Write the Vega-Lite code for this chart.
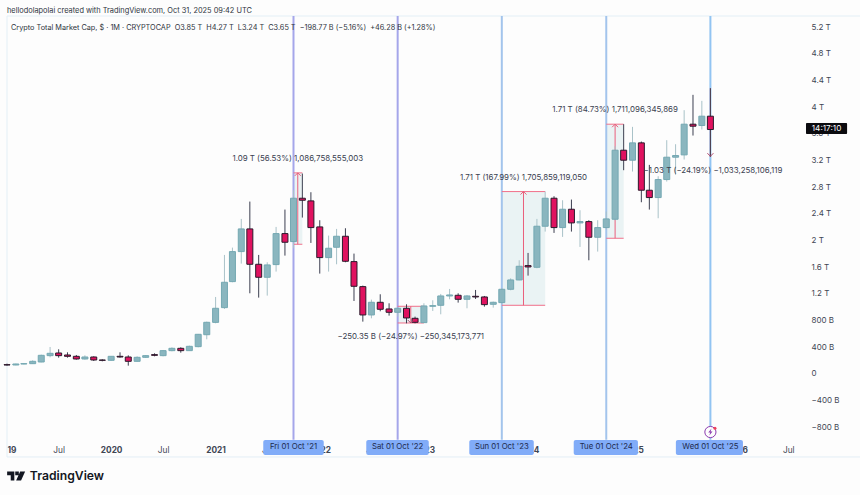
{
  "$schema": "https://vega.github.io/schema/vega-lite/v6.json",
  "width": 799,
  "height": 424,
  "padding": {"left": 7, "top": 16, "right": 54, "bottom": 55},
  "autosize": "none",
  "background": "#fdfdfd",
  "config": {"font": "Inter", "view": {"stroke": null}},
  "datasets": {
    "candles": [
      {"date": "2019-01-01T00:00:00", "open": 0.125, "high": 0.14, "low": 0.11, "close": 0.12},
      {"date": "2019-02-01T00:00:00", "open": 0.12, "high": 0.14, "low": 0.115, "close": 0.135},
      {"date": "2019-03-01T00:00:00", "open": 0.135, "high": 0.145, "low": 0.13, "close": 0.14},
      {"date": "2019-04-01T00:00:00", "open": 0.14, "high": 0.19, "low": 0.135, "close": 0.175},
      {"date": "2019-05-01T00:00:00", "open": 0.165, "high": 0.275, "low": 0.16, "close": 0.265},
      {"date": "2019-06-01T00:00:00", "open": 0.26, "high": 0.39, "low": 0.235, "close": 0.295},
      {"date": "2019-07-01T00:00:00", "open": 0.3, "high": 0.355, "low": 0.23, "close": 0.26},
      {"date": "2019-08-01T00:00:00", "open": 0.27, "high": 0.31, "low": 0.23, "close": 0.25},
      {"date": "2019-09-01T00:00:00", "open": 0.25, "high": 0.27, "low": 0.2, "close": 0.21},
      {"date": "2019-10-01T00:00:00", "open": 0.21, "high": 0.265, "low": 0.2, "close": 0.24},
      {"date": "2019-11-01T00:00:00", "open": 0.24, "high": 0.25, "low": 0.18, "close": 0.195},
      {"date": "2019-12-01T00:00:00", "open": 0.195, "high": 0.205, "low": 0.175, "close": 0.19},
      {"date": "2020-01-01T00:00:00", "open": 0.19, "high": 0.255, "low": 0.185, "close": 0.25},
      {"date": "2020-02-01T00:00:00", "open": 0.25, "high": 0.31, "low": 0.23, "close": 0.24},
      {"date": "2020-03-01T00:00:00", "open": 0.24, "high": 0.265, "low": 0.11, "close": 0.175},
      {"date": "2020-04-01T00:00:00", "open": 0.175, "high": 0.25, "low": 0.17, "close": 0.235},
      {"date": "2020-05-01T00:00:00", "open": 0.235, "high": 0.27, "low": 0.225, "close": 0.26},
      {"date": "2020-06-01T00:00:00", "open": 0.275, "high": 0.295, "low": 0.25, "close": 0.265},
      {"date": "2020-07-01T00:00:00", "open": 0.26, "high": 0.345, "low": 0.25, "close": 0.335},
      {"date": "2020-08-01T00:00:00", "open": 0.335, "high": 0.385, "low": 0.325, "close": 0.37},
      {"date": "2020-09-01T00:00:00", "open": 0.37, "high": 0.385, "low": 0.305, "close": 0.335},
      {"date": "2020-10-01T00:00:00", "open": 0.335, "high": 0.41, "low": 0.33, "close": 0.4},
      {"date": "2020-11-01T00:00:00", "open": 0.395, "high": 0.585, "low": 0.385, "close": 0.58},
      {"date": "2020-12-01T00:00:00", "open": 0.574, "high": 0.77, "low": 0.505, "close": 0.76},
      {"date": "2021-01-01T00:00:00", "open": 0.759, "high": 1.14, "low": 0.745, "close": 0.97},
      {"date": "2021-02-01T00:00:00", "open": 0.98, "high": 1.77, "low": 0.96, "close": 1.36},
      {"date": "2021-03-01T00:00:00", "open": 1.37, "high": 1.88, "low": 1.36, "close": 1.82},
      {"date": "2021-04-01T00:00:00", "open": 1.82, "high": 2.31, "low": 1.64, "close": 2.16},
      {"date": "2021-05-01T00:00:00", "open": 2.16, "high": 2.57, "low": 1.195, "close": 1.63},
      {"date": "2021-06-01T00:00:00", "open": 1.63, "high": 1.77, "low": 1.13, "close": 1.435},
      {"date": "2021-07-01T00:00:00", "open": 1.435, "high": 1.66, "low": 1.16, "close": 1.62},
      {"date": "2021-08-01T00:00:00", "open": 1.625, "high": 2.19, "low": 1.52, "close": 2.09},
      {"date": "2021-09-01T00:00:00", "open": 2.09, "high": 2.45, "low": 1.76, "close": 1.96},
      {"date": "2021-10-01T00:00:00", "open": 1.97, "high": 2.74, "low": 1.87, "close": 2.62},
      {"date": "2021-11-01T00:00:00", "open": 2.62, "high": 2.99, "low": 2.33, "close": 2.59},
      {"date": "2021-12-01T00:00:00", "open": 2.58, "high": 2.71, "low": 1.95, "close": 2.18},
      {"date": "2022-01-01T00:00:00", "open": 2.19, "high": 2.29, "low": 1.49, "close": 1.73},
      {"date": "2022-02-01T00:00:00", "open": 1.73, "high": 2.06, "low": 1.52, "close": 1.87},
      {"date": "2022-03-01T00:00:00", "open": 1.885, "high": 2.16, "low": 1.63, "close": 2.05},
      {"date": "2022-04-01T00:00:00", "open": 2.05, "high": 2.17, "low": 1.66, "close": 1.675},
      {"date": "2022-05-01T00:00:00", "open": 1.67, "high": 1.79, "low": 1.08, "close": 1.3},
      {"date": "2022-06-01T00:00:00", "open": 1.295, "high": 1.31, "low": 0.77, "close": 0.87},
      {"date": "2022-07-01T00:00:00", "open": 0.87, "high": 1.1, "low": 0.82, "close": 1.06},
      {"date": "2022-08-01T00:00:00", "open": 1.06, "high": 1.18, "low": 0.925, "close": 0.955},
      {"date": "2022-09-01T00:00:00", "open": 0.96, "high": 1.045, "low": 0.86, "close": 0.91},
      {"date": "2022-10-01T00:00:00", "open": 0.91, "high": 0.98, "low": 0.845, "close": 0.97},
      {"date": "2022-11-01T00:00:00", "open": 0.97, "high": 1.03, "low": 0.745, "close": 0.825},
      {"date": "2022-12-01T00:00:00", "open": 0.82, "high": 0.845, "low": 0.745, "close": 0.76},
      {"date": "2023-01-01T00:00:00", "open": 0.755, "high": 1.045, "low": 0.75, "close": 1.005},
      {"date": "2023-02-01T00:00:00", "open": 1.0, "high": 1.09, "low": 0.93, "close": 1.01},
      {"date": "2023-03-01T00:00:00", "open": 1.015, "high": 1.185, "low": 0.88, "close": 1.155},
      {"date": "2023-04-01T00:00:00", "open": 1.155, "high": 1.26, "low": 1.105, "close": 1.17},
      {"date": "2023-05-01T00:00:00", "open": 1.165, "high": 1.195, "low": 1.055, "close": 1.105},
      {"date": "2023-06-01T00:00:00", "open": 1.105, "high": 1.17, "low": 0.97, "close": 1.155},
      {"date": "2023-07-01T00:00:00", "open": 1.15, "high": 1.245, "low": 1.11, "close": 1.14},
      {"date": "2023-08-01T00:00:00", "open": 1.14, "high": 1.155, "low": 0.995, "close": 1.025},
      {"date": "2023-09-01T00:00:00", "open": 1.03, "high": 1.07, "low": 0.98, "close": 1.06},
      {"date": "2023-10-01T00:00:00", "open": 1.055, "high": 1.27, "low": 1.04, "close": 1.255},
      {"date": "2023-11-01T00:00:00", "open": 1.255, "high": 1.42, "low": 1.24, "close": 1.395},
      {"date": "2023-12-01T00:00:00", "open": 1.395, "high": 1.69, "low": 1.39, "close": 1.6},
      {"date": "2024-01-01T00:00:00", "open": 1.61, "high": 1.8, "low": 1.46, "close": 1.59},
      {"date": "2024-02-01T00:00:00", "open": 1.585, "high": 2.31, "low": 1.57, "close": 2.2},
      {"date": "2024-03-01T00:00:00", "open": 2.2, "high": 2.72, "low": 2.12, "close": 2.62},
      {"date": "2024-04-01T00:00:00", "open": 2.62, "high": 2.65, "low": 2.1, "close": 2.18},
      {"date": "2024-05-01T00:00:00", "open": 2.18, "high": 2.59, "low": 2.04, "close": 2.455},
      {"date": "2024-06-01T00:00:00", "open": 2.455, "high": 2.6, "low": 2.12, "close": 2.25},
      {"date": "2024-07-01T00:00:00", "open": 2.25, "high": 2.44, "low": 1.89, "close": 2.27},
      {"date": "2024-08-01T00:00:00", "open": 2.27, "high": 2.29, "low": 1.69, "close": 2.035},
      {"date": "2024-09-01T00:00:00", "open": 2.035, "high": 2.29, "low": 1.82, "close": 2.18},
      {"date": "2024-10-01T00:00:00", "open": 2.18, "high": 2.42, "low": 2.15, "close": 2.31},
      {"date": "2024-11-01T00:00:00", "open": 2.305, "high": 3.4, "low": 2.29, "close": 3.34},
      {"date": "2024-12-01T00:00:00", "open": 3.34, "high": 3.73, "low": 3.04, "close": 3.19},
      {"date": "2025-01-01T00:00:00", "open": 3.19, "high": 3.69, "low": 3.02, "close": 3.45},
      {"date": "2025-02-01T00:00:00", "open": 3.45, "high": 3.47, "low": 2.56, "close": 2.74},
      {"date": "2025-03-01T00:00:00", "open": 2.74, "high": 3.12, "low": 2.45, "close": 2.63},
      {"date": "2025-04-01T00:00:00", "open": 2.63, "high": 2.95, "low": 2.32, "close": 2.9},
      {"date": "2025-05-01T00:00:00", "open": 2.9, "high": 3.49, "low": 2.87, "close": 3.235},
      {"date": "2025-06-01T00:00:00", "open": 3.235, "high": 3.43, "low": 2.97, "close": 3.26},
      {"date": "2025-07-01T00:00:00", "open": 3.27, "high": 3.94, "low": 3.2, "close": 3.73},
      {"date": "2025-08-01T00:00:00", "open": 3.73, "high": 4.17, "low": 3.56, "close": 3.7},
      {"date": "2025-09-01T00:00:00", "open": 3.71, "high": 4.08, "low": 3.65, "close": 3.85},
      {"date": "2025-10-01T00:00:00", "open": 3.85, "high": 4.27, "low": 3.24, "close": 3.65}
    ],
    "cycles": [
      {"date": "2021-10-01T00:00:00", "label": "Fri 01 Oct '21", "from": "2021-06-17T00:00:00", "to": "2022-01-15T00:00:00", "top": 5.352, "bottom": -1.0},
      {"date": "2022-10-01T00:00:00", "label": "Sat 01 Oct '22", "from": "2022-06-13T00:00:00", "to": "2023-01-18T00:00:00", "top": 5.352, "bottom": -1.0},
      {"date": "2023-10-01T00:00:00", "label": "Sun 01 Oct '23", "from": "2023-06-09T00:00:00", "to": "2024-01-21T00:00:00", "top": 5.352, "bottom": -1.0},
      {"date": "2024-10-01T00:00:00", "label": "Tue 01 Oct '24", "from": "2024-06-09T00:00:00", "to": "2025-01-20T00:00:00", "top": 5.352, "bottom": -1.0},
      {"date": "2025-10-01T00:00:00", "label": "Wed 01 Oct '25", "from": "2025-06-02T00:00:00", "to": "2026-01-23T00:00:00", "top": 5.352, "bottom": -1.0}
    ],
    "ranges": [
      {"start": "2021-10-01T00:00:00", "end": "2021-11-01T00:00:00", "mid": "2021-10-16T00:00:00", "textX": "2021-10-16T00:00:00", "low": 1.93, "high": 3.0, "tip": 3.0, "text": "1.09 T (56.53%) 1,086,758,555,003", "textY": 3.21},
      {"start": "2022-10-01T00:00:00", "end": "2023-01-01T00:00:00", "mid": "2022-11-16T00:00:00", "textX": "2022-11-16T00:00:00", "low": 0.75, "high": 1.0, "tip": 0.75, "text": "−250.35 B (−24.97%) −250,345,173,771", "textY": 0.54},
      {"start": "2023-10-01T00:00:00", "end": "2024-03-01T00:00:00", "mid": "2023-12-16T00:00:00", "textX": "2023-12-16T00:00:00", "low": 1.015, "high": 2.72, "tip": 2.72, "text": "1.71 T (167.99%) 1,705,859,119,050", "textY": 2.92},
      {"start": "2024-10-01T00:00:00", "end": "2024-12-01T00:00:00", "mid": "2024-11-01T00:00:00", "textX": "2024-11-01T00:00:00", "low": 2.02, "high": 3.73, "tip": 3.73, "text": "1.71 T (84.73%) 1,711,096,345,869", "textY": 3.94},
      {"start": "2025-10-01T00:00:00", "end": "2025-10-01T00:00:00", "mid": "2025-10-01T00:00:00", "textX": "2025-10-10T00:00:00", "low": 3.24, "high": 4.27, "tip": 3.25, "text": "−1.03 T (−24.19%) −1,033,258,106,119", "textY": 3.03}
    ],
    "frame": [
      {"x": "2019-01-01T00:00:00", "x2": "2027-06-01T00:00:00", "y": 5.352, "y2": 5.352},
      {"x": "2019-01-01T00:00:00", "x2": "2027-06-01T00:00:00", "y": -1.259, "y2": -1.259},
      {"x": "2019-01-01T00:00:00", "x2": "2019-01-01T00:00:00", "y": 5.352, "y2": -1.259}
    ],
    "notes": [
      {"x": "2019-01-01T00:00:00", "y": 5.43, "size": "big", "text": "hellodolapolai created with TradingView.com, Oct 31, 2025 09:42 UTC"},
      {"x": "2019-01-15T00:00:00", "y": 5.17, "size": "small", "text": "Crypto Total Market Cap, $ · 1M · CRYPTOCAP\u00a0\u00a0O3.85 T\u00a0\u00a0H4.27 T\u00a0\u00a0L3.24 T\u00a0\u00a0C3.65 T\u00a0\u00a0−198.77 B (−5.16%)\u00a0\u00a0+46.28 B (+1.28%)"}
    ]
  },
  "layer": [
    {
      "data": {"name": "frame"},
      "mark": {"type": "rule", "color": "#e3eff6", "strokeWidth": 1},
      "encoding": {
        "x": {
          "field": "x",
          "type": "temporal",
          "scale": {"domain": ["2019-01-01T00:00:00", "2026-09-01T00:00:00"], "nice": false, "padding": 0},
          "axis": {
            "title": null,
            "grid": false,
            "domain": false,
            "ticks": false,
            "tickCount": 20,
            "labelFontSize": 8.3,
            "labelColor": "#3f4654",
            "labelPadding": 5,
            "labelOverlap": false,
            "labelBound": false,
            "labelFlush": false,
            "labelAlign": {"condition": {"test": "year(datum.value)==2019 && month(datum.value)==0", "value": "left"}, "value": "center"},
            "labelFontWeight": {"condition": {"test": "month(datum.value)==0", "value": "bold"}, "value": "normal"},
            "values": [
              "2019-01-01T00:00:00", "2019-07-01T00:00:00", "2020-01-01T00:00:00", "2020-07-01T00:00:00",
              "2021-01-01T00:00:00", "2021-07-01T00:00:00", "2022-01-01T00:00:00", "2022-07-01T00:00:00",
              "2023-01-01T00:00:00", "2023-07-01T00:00:00", "2024-01-01T00:00:00", "2024-07-01T00:00:00",
              "2025-01-01T00:00:00", "2025-07-01T00:00:00", "2026-01-01T00:00:00", "2026-07-01T00:00:00"
            ],
            "labelExpr": "month(datum.value)==6 ? 'Jul' : (year(datum.value)==2019 ? '19' : timeFormat(datum.value,'%Y'))"
          }
        },
        "x2": {"field": "x2"},
        "y": {
          "field": "y",
          "type": "quantitative",
          "scale": {"domain": [-1.0045, 5.352], "nice": false, "zero": false},
          "axis": {
            "title": null,
            "orient": "right",
            "grid": false,
            "domain": false,
            "ticks": false,
            "tickCount": 20,
            "labelFontSize": 8,
            "labelColor": "#3f4654",
            "labelPadding": 5,
            "labelOffset": 1,
            "labelOverlap": false,
            "labelBound": false,
            "labelFlush": false,
            "values": [-0.8, -0.4, 0, 0.4, 0.8, 1.2, 1.6, 2, 2.4, 2.8, 3.2, 3.6, 4, 4.4, 4.8, 5.2],
            "labelExpr": "datum.value==0 ? '0' : (abs(datum.value)<1 ? (datum.value<0 ? '−' : '') + format(abs(datum.value)*1000,'d') + ' B' : format(datum.value,'.2~f') + ' T')"
          }
        },
        "y2": {"field": "y2"}
      }
    },
    {
      "data": {"name": "ranges"},
      "mark": {"type": "rect", "fill": "#cfe5e8", "opacity": 0.42},
      "encoding": {
        "x": {"field": "start", "type": "temporal"},
        "x2": {"field": "end"},
        "y": {"field": "low", "type": "quantitative"},
        "y2": {"field": "high"}
      }
    },
    {
      "data": {"name": "cycles"},
      "mark": {"type": "rule", "strokeWidth": 2},
      "encoding": {
        "x": {"field": "date", "type": "temporal"},
        "y": {"field": "top", "type": "quantitative"},
        "y2": {"field": "bottom"},
        "color": {
          "field": "date",
          "type": "ordinal",
          "legend": null,
          "scale": {"range": ["#a5a6ea", "#a5a6ea", "#a3c4ec", "#a3c4ec", "#92c4f2"]}
        }
      }
    },
    {
      "data": {"name": "ranges"},
      "mark": {"type": "rule", "color": "#f0708a", "strokeWidth": 1},
      "encoding": {
        "x": {"field": "start", "type": "temporal"},
        "x2": {"field": "end"},
        "y": {"field": "high", "type": "quantitative"}
      }
    },
    {
      "data": {"name": "ranges"},
      "mark": {"type": "rule", "color": "#f0708a", "strokeWidth": 1},
      "encoding": {
        "x": {"field": "start", "type": "temporal"},
        "x2": {"field": "end"},
        "y": {"field": "low", "type": "quantitative"}
      }
    },
    {
      "data": {"name": "ranges"},
      "mark": {"type": "rule", "color": "#ea5f7c", "strokeWidth": 1},
      "encoding": {
        "x": {"field": "mid", "type": "temporal"},
        "y": {"field": "low", "type": "quantitative"},
        "y2": {"field": "high"}
      }
    },
    {
      "data": {"name": "candles"},
      "mark": {"type": "rule", "strokeWidth": 1},
      "encoding": {
        "x": {"field": "date", "type": "temporal"},
        "y": {"field": "low", "type": "quantitative"},
        "y2": {"field": "high"},
        "color": {"condition": {"test": "datum.close>=datum.open", "value": "#a9c2c8"}, "value": "#3c3f50"}
      }
    },
    {
      "data": {"name": "candles"},
      "mark": {"type": "bar", "width": 6, "strokeWidth": 1},
      "encoding": {
        "x": {"field": "date", "type": "temporal"},
        "y": {"field": "open", "type": "quantitative"},
        "y2": {"field": "close"},
        "fill": {"condition": {"test": "datum.close>=datum.open", "value": "#8ab6bf"}, "value": "#e0125f"},
        "stroke": {"condition": {"test": "datum.close>=datum.open", "value": "#74a8b2"}, "value": "#2b1a2c"}
      }
    },
    {
      "data": {"name": "ranges"},
      "mark": {"type": "point", "shape": "M-1,1L0,0L1,1", "filled": false, "size": 36, "strokeWidth": 1, "color": "#e8607c", "opacity": 1},
      "transform": [{"filter": "datum.tip==datum.high"}],
      "encoding": {
        "x": {"field": "mid", "type": "temporal"},
        "y": {"field": "tip", "type": "quantitative"}
      }
    },
    {
      "data": {"name": "ranges"},
      "mark": {"type": "point", "shape": "M-1,-1L0,0L1,-1", "filled": false, "size": 36, "strokeWidth": 1, "color": "#b0486a", "opacity": 1},
      "transform": [{"filter": "datum.tip!=datum.high"}],
      "encoding": {
        "x": {"field": "mid", "type": "temporal"},
        "y": {"field": "tip", "type": "quantitative"}
      }
    },
    {
      "data": {"name": "ranges"},
      "mark": {"type": "text", "fontSize": 7.9, "color": "#3a4150", "align": "center", "baseline": "middle"},
      "encoding": {
        "x": {"field": "textX", "type": "temporal"},
        "y": {"field": "textY", "type": "quantitative"},
        "text": {"field": "text"}
      }
    },
    {
      "data": {"name": "cycles"},
      "mark": {"type": "rect", "fill": "#81acf8", "cornerRadius": 2},
      "encoding": {
        "x": {"field": "from", "type": "temporal"},
        "x2": {"field": "to"},
        "y": {"datum": -1.0045},
        "y2": {"datum": -1.229}
      }
    },
    {
      "data": {"name": "cycles"},
      "mark": {"type": "text", "fontSize": 7.8, "color": "#1d2a4d", "align": "center", "baseline": "middle"},
      "encoding": {
        "x": {"field": "date", "type": "temporal"},
        "y": {"datum": -1.115},
        "text": {"field": "label"}
      }
    },
    {
      "data": {"name": "notes"},
      "transform": [{"filter": "datum.size=='big'"}],
      "mark": {"type": "text", "fontSize": 7.4, "color": "#2e3440", "align": "left", "baseline": "middle"},
      "encoding": {
        "x": {"field": "x", "type": "temporal"},
        "y": {"field": "y", "type": "quantitative"},
        "text": {"field": "text"}
      }
    },
    {
      "data": {"name": "notes"},
      "transform": [{"filter": "datum.size=='small'"}],
      "mark": {"type": "text", "fontSize": 7.3, "color": "#2e3440", "align": "left", "baseline": "middle"},
      "encoding": {
        "x": {"field": "x", "type": "temporal"},
        "y": {"field": "y", "type": "quantitative"},
        "text": {"field": "text"}
      }
    },
    {
      "data": {"values": [{"from": "2026-09-01T00:00:00", "to": "2027-01-23T00:00:00", "mid": "2026-11-12T00:00:00", "low": 3.583, "high": 3.748, "price": 3.665, "text": "14:17:10"}]},
      "layer": [
        {
          "mark": {"type": "rect", "fill": "#0b0b0f", "cornerRadius": 1},
          "encoding": {
            "x": {"field": "from", "type": "temporal"},
            "x2": {"field": "to"},
            "y": {"field": "low", "type": "quantitative"},
            "y2": {"field": "high"}
          }
        },
        {
          "mark": {"type": "text", "fontSize": 8.2, "color": "#ffffff", "align": "center", "baseline": "middle"},
          "encoding": {
            "x": {"field": "mid", "type": "temporal"},
            "y": {"field": "price", "type": "quantitative"},
            "text": {"field": "text"}
          }
        }
      ]
    },
    {
      "data": {"values": [{"date": "2025-10-01T00:00:00", "y": -0.885}]},
      "layer": [
        {
          "mark": {"type": "point", "shape": "circle", "filled": true, "size": 125, "fill": "#fdfdfd", "stroke": "#8d3bb0", "strokeWidth": 1, "opacity": 1},
          "encoding": {
            "x": {"field": "date", "type": "temporal"},
            "y": {"field": "y", "type": "quantitative"}
          }
        },
        {
          "mark": {"type": "point", "shape": "M0.3,-1L-0.6,0.15L-0.05,0.15L-0.3,1L0.6,-0.15L0.05,-0.15Z", "filled": true, "size": 50, "color": "#8d3bb0", "opacity": 1},
          "encoding": {
            "x": {"field": "date", "type": "temporal"},
            "y": {"field": "y", "type": "quantitative"}
          }
        }
      ]
    },
    {
      "data": {"values": [{"date": "2025-10-17T00:00:00", "y": -0.83}]},
      "mark": {"type": "point", "shape": "circle", "filled": true, "size": 9, "color": "#f0405a", "opacity": 1},
      "encoding": {
        "x": {"field": "date", "type": "temporal"},
        "y": {"field": "y", "type": "quantitative"}
      }
    },
    {
      "data": {"values": [{"x": "2019-02-02T00:00:00", "y": -1.545}]},
      "mark": {"type": "point", "shape": "M-1,-0.5H-0.2V0.5H-0.6V-0.1H-1ZM0.45,-0.5H1L0.55,0.5H0ZM-0.1,-0.5H0.3V-0.1H-0.1Z", "filled": true, "size": 324, "color": "#131722", "opacity": 1},
      "encoding": {
        "x": {"field": "x", "type": "temporal"},
        "y": {"field": "y", "type": "quantitative"}
      }
    },
    {
      "data": {"values": [{"x": "2019-03-22T00:00:00", "y": -1.545, "text": "TradingView"}]},
      "mark": {"type": "text", "fontSize": 12.2, "fontWeight": 600, "color": "#131722", "align": "left", "baseline": "middle"},
      "encoding": {
        "x": {"field": "x", "type": "temporal"},
        "y": {"field": "y", "type": "quantitative"},
        "text": {"field": "text"}
      }
    }
  ]
}
